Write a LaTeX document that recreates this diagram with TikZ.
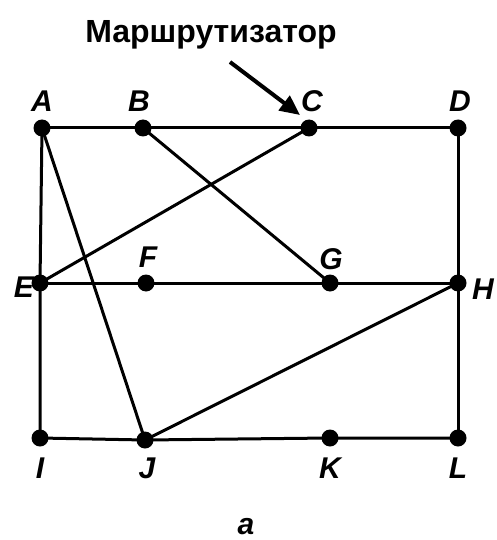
\documentclass[tikz,border=0pt]{standalone}
\usepackage{fontspec}
\setmainfont{Liberation Sans}
\usetikzlibrary{arrows.meta}
\begin{document}
\begin{tikzpicture}[x=1pt,y=-1pt,
  dot/.style={circle,fill=black,inner sep=0pt,minimum size=17pt},
  lbl/.style={font=\fontsize{30}{32}\selectfont\bfseries\itshape,inner sep=0pt},
  edge/.style={line width=3pt},
  ptr/.style={line width=4pt,-{Triangle[length=20pt,width=18pt]}}]
\useasboundingbox (0,0) rectangle (496,540);
\node[dot] (A) at (42,128) {};
\node[dot] (B) at (143,128) {};
\node[dot] (C) at (309,128) {};
\node[dot] (D) at (458,128) {};
\node[dot] (E) at (40,283) {};
\node[dot] (F) at (146,283) {};
\node[dot] (G) at (330,283) {};
\node[dot] (H) at (458,283) {};
\node[dot] (I) at (40,438) {};
\node[dot] (J) at (145,440) {};
\node[dot] (K) at (330,438) {};
\node[dot] (L) at (458,438) {};
\draw[edge] (A.center) -- (B.center) -- (C.center) -- (D.center);
\draw[edge] (E.center) -- (F.center) -- (G.center) -- (H.center);
\draw[edge] (I.center) -- (J.center) -- (K.center) -- (L.center);
\draw[edge] (A.center) -- (E.center) -- (I.center);
\draw[edge] (D.center) -- (H.center) -- (L.center);
\draw[edge] (A.center) -- (J.center);
\draw[edge] (B.center) -- (G.center);
\draw[edge] (C.center) -- (E.center);
\draw[edge] (H.center) -- (J.center);
\node[lbl] (lA) at (42,101) {A};
\node[lbl] (lB) at (139,101) {B};
\node[lbl] (lC) at (312,101) {C};
\node[lbl] (lD) at (460,101) {D};
\node[lbl] (lE) at (24,287) {E};
\node[lbl] (lF) at (148,257) {F};
\node[lbl] (lG) at (331,259) {G};
\node[lbl] (lH) at (483,289) {H};
\node[lbl] (lI) at (40,468) {I};
\node[lbl] (lJ) at (147,468) {J};
\node[lbl] (lK) at (330,468) {K};
\node[lbl] (lL) at (458,468) {L};
\node[lbl] (la) at (246,527) {a};
\node[font=\fontsize{32}{34}\selectfont\bfseries,inner sep=0pt,anchor=base] (title) at (211,43) {Маршрутизатор};
\coordinate (tipfrom) at (230,62);
\coordinate (tipto) at (300,115);
\draw[ptr] (tipfrom) -- (tipto);
\end{tikzpicture}
\end{document}
